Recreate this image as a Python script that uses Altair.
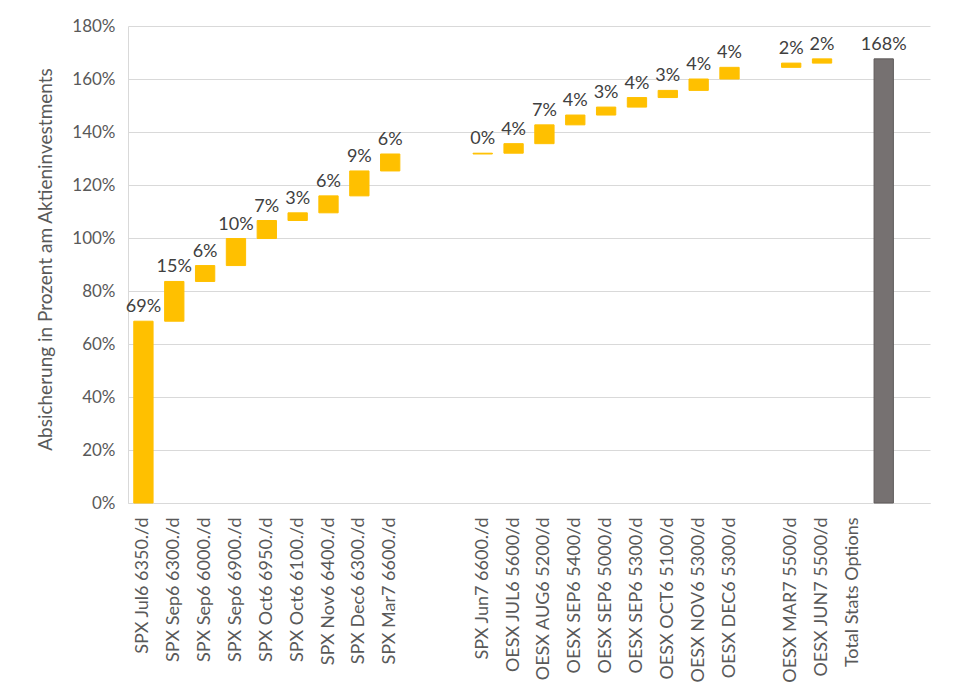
import altair as alt
import pandas as pd
import numpy as np

# --- data ---
categories = [
    "SPX Jul6 6350./d", "SPX Sep6 6300./d", "SPX Sep6 6000./d", "SPX Sep6 6900./d",
    "SPX Oct6 6950./d", "SPX Oct6 6100./d", "SPX Nov6 6400./d", "SPX Dec6 6300./d",
    "SPX Mar7 6600./d", " ", "  ", "SPX Jun7 6600./d", "OESX JUL6 5600/d",
    "OESX AUG6 5200/d", "OESX SEP6 5400/d", "OESX SEP6 5000/d", "OESX SEP6 5300/d",
    "OESX OCT6 5100/d", "OESX NOV6 5300/d", "OESX DEC6 5300/d", "   ",
    "OESX MAR7 5500/d", "OESX JUN7 5500/d", "Total Stats Options", "    ", "     ",
]
step_categories = [
    "SPX Jul6 6350./d", "SPX Sep6 6300./d", "SPX Sep6 6000./d", "SPX Sep6 6900./d",
    "SPX Oct6 6950./d", "SPX Oct6 6100./d", "SPX Nov6 6400./d", "SPX Dec6 6300./d",
    "SPX Mar7 6600./d", "SPX Jun7 6600./d", "OESX JUL6 5600/d", "OESX AUG6 5200/d",
    "OESX SEP6 5400/d", "OESX SEP6 5000/d", "OESX SEP6 5300/d", "OESX OCT6 5100/d",
    "OESX NOV6 5300/d", "OESX DEC6 5300/d", "OESX MAR7 5500/d", "OESX JUN7 5500/d",
]
increments = [68.6, 15.0, 6.0, 10.2, 6.8, 2.9, 6.4, 9.4, 6.4, 0.3,
              3.6, 7.1, 3.7, 3.0, 3.6, 2.7, 4.3, 4.4, 1.6, 1.6]
total_category = "    "
total_value = 167.6
yellow = "#FFC000"
grey = "#767171"

ends = np.cumsum(increments)
starts = ends - np.array(increments)
rows = []
for c, s, e, inc in zip(step_categories, starts, ends, increments):
    rows.append({"cat": c, "start": float(s), "end": float(e),
                 "label": f"{inc:.0f}%", "kind": "step"})
rows.append({"cat": total_category, "start": 0.0, "end": total_value,
             "label": f"{total_value:.0f}%", "kind": "total"})
df = pd.DataFrame(rows)

font = "Lato"

x_enc = alt.X(
    "cat:N", sort=categories,
    scale=alt.Scale(domain=categories, paddingInner=0.374, paddingOuter=0.187),
    axis=alt.Axis(title=None, labelAngle=270, labelAlign="right", labelBaseline="middle",
                  labelPadding=14, ticks=False, domainColor="#D9D9D9", labelFont=font,
                  labelFontSize=18, labelColor="#595959", labelLimit=300, labelOverlap=False),
)
y_scale = alt.Scale(domain=[0, 180], nice=False)

bars = alt.Chart(df).mark_bar().encode(
    x=x_enc,
    y=alt.Y("start:Q", scale=y_scale,
            axis=alt.Axis(values=list(range(0, 181, 20)), labelExpr="datum.value + '%'",
                          title="Absicherung in Prozent am Aktieninvestments",
                          titleFont=font, titleFontSize=19, titleFontWeight="normal",
                          titleColor="#595959", titleX=-83, titleY=233, titleAngle=270,
                          titleAlign="center", titleBaseline="middle",
                          labelFont=font, labelFontSize=17, labelColor="#595959",
                          labelPadding=13, ticks=False, domainColor="#D9D9D9",
                          gridColor="#D9D9D9", gridWidth=1)),
    y2="end:Q",
    color=alt.Color("kind:N", scale=alt.Scale(domain=["step", "total"], range=[yellow, grey]),
                    legend=None),
    stroke=alt.Stroke("kind:N", scale=alt.Scale(domain=["step", "total"],
                                                 range=[yellow, "#5E5A5A"]), legend=None),
)

labels = alt.Chart(df).mark_text(baseline="bottom", dy=-5, font=font, fontSize=18,
                                 color="#404040").encode(
    x=alt.X("cat:N", sort=categories, scale=alt.Scale(domain=categories)),
    y=alt.Y("end:Q", scale=y_scale),
    text="label:N",
)

chart = (bars + labels).properties(
    width=802, height=477,
    autosize=alt.AutoSizeParams(type="none"),
    padding={"left": 120, "top": 18, "right": 40, "bottom": 180},
).configure_view(stroke=None)

chart.save("out.html", embed_options={"renderer": "svg", "actions": False})
